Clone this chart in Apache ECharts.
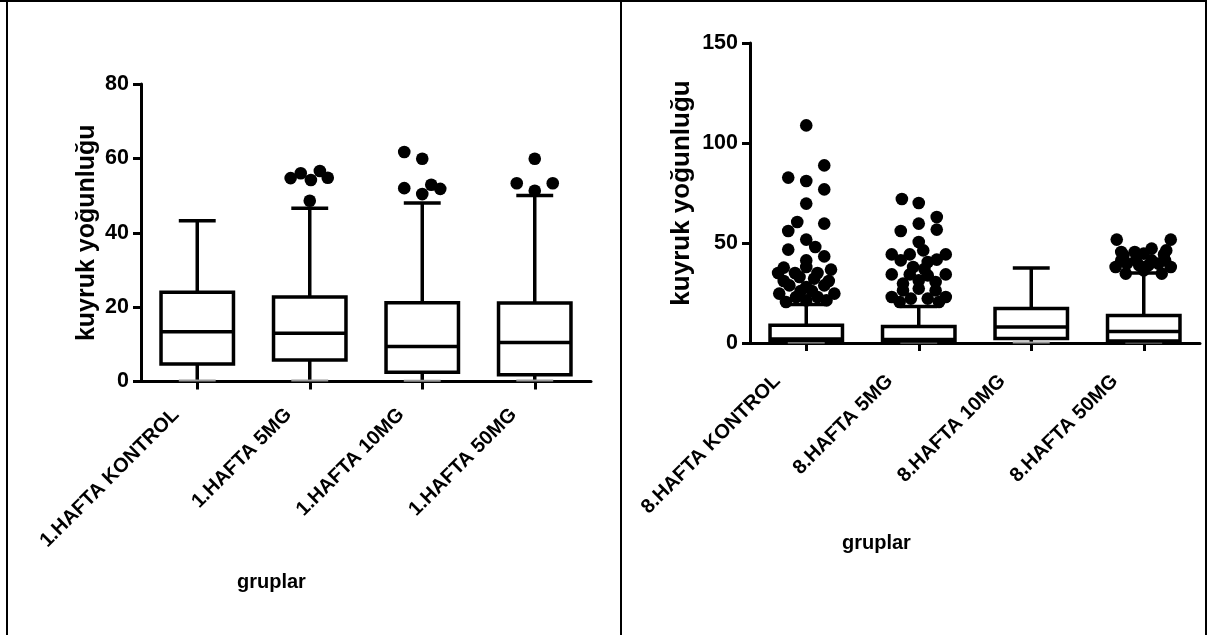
<!DOCTYPE html>
<html><head><meta charset="utf-8">
<script src="https://cdn.jsdelivr.net/npm/echarts@6/dist/echarts.min.js"></script>
<style>html,body{margin:0;padding:0;background:#fff}#c{width:1207px;height:635px}</style>
</head><body><div id="c"></div>
<script>
const catsWeek1 = ['1.HAFTA KONTROL', '1.HAFTA 5MG', '1.HAFTA 10MG', '1.HAFTA 50MG'];
const catsWeek8 = ['8.HAFTA KONTROL', '8.HAFTA 5MG', '8.HAFTA 10MG', '8.HAFTA 50MG'];
const yTicksWeek1 = [0, 20, 40, 60, 80];
const yTicksWeek8 = [0, 50, 100, 150];
const yTitle = 'kuyruk yoğunluğu';
const xTitle = 'gruplar';
// box values per group: [min, Q1, median, Q3, max]
const boxWeek1 = [
  [0.3, 4.7, 13.4, 24.0, 43.2],
  [0.3, 5.8, 13.0, 22.7, 46.6],
  [0.2, 2.5, 9.4, 21.2, 48.0],
  [0.3, 1.8, 10.5, 21.1, 50.0]
];
const boxWeek8 = [
  [0.2, 1.2, 2.0, 8.9, 19.3],
  [0.2, 1.0, 1.8, 8.3, 18.3],
  [0.3, 2.2, 8.0, 17.2, 37.5],
  [0.2, 1.0, 5.8, 13.8, 35.0]
];
// outliers: [group index, value, horizontal jitter as fraction of category width]
const outWeek1 = [
  [1, 54.7, -0.17], [1, 56.0, -0.08], [1, 54.2, 0.01], [1, 56.6, 0.09], [1, 54.8, 0.16], [1, 48.6, 0.0],
  [2, 61.7, -0.16], [2, 59.9, 0.0], [2, 52.0, -0.16], [2, 52.9, 0.08], [2, 51.8, 0.16], [2, 50.4, 0.0],
  [3, 59.9, 0.0], [3, 53.3, -0.16], [3, 53.3, 0.16], [3, 51.3, 0.0]
];
const outWeek8 = [
  [0, 108.8, 0.0], [0, 82.7, -0.16], [0, 81.0, 0.0], [0, 88.8, 0.16], [0, 76.8, 0.16], [0, 69.7, 0.0],
  [0, 60.5, -0.08], [0, 59.7, 0.16], [0, 56.0, -0.16], [0, 51.7, 0.0], [0, 46.7, -0.16], [0, 48.0, 0.08],
  [0, 43.3, 0.16], [0, 41.3, 0.0], [0, 37.7, -0.2], [0, 35.0, -0.25], [0, 36.7, 0.22], [0, 38.0, 0.0],
  [0, 33.0, -0.06], [0, 32.2, 0.07], [0, 28.8, -0.15], [0, 28.8, 0.16], [0, 28.0, 0.0], [0, 24.7, -0.24],
  [0, 24.7, 0.25], [0, 23.0, -0.09], [0, 23.0, 0.10], [0, 21.3, 0.0], [0, 20.5, -0.18], [0, 21.3, 0.18],
  [0, 31.0, -0.2], [0, 31.0, 0.2], [0, 26.0, -0.05], [0, 26.0, 0.05], [0, 35.0, -0.1], [0, 35.0, 0.1],
  [1, 72.0, -0.15], [1, 70.0, 0.0], [1, 63.0, 0.16], [1, 59.7, 0.0], [1, 56.0, -0.16], [1, 56.7, 0.16],
  [1, 50.5, 0.0], [1, 44.3, -0.24], [1, 44.3, -0.08], [1, 46.3, 0.04], [1, 44.3, 0.24], [1, 41.3, -0.16],
  [1, 41.7, 0.16], [1, 40.5, 0.08], [1, 34.3, -0.24], [1, 34.3, -0.08], [1, 33.8, 0.08], [1, 34.3, 0.24],
  [1, 31.3, 0.0], [1, 29.7, -0.14], [1, 30.5, 0.15], [1, 27.2, 0.0], [1, 26.3, -0.14], [1, 26.3, 0.15],
  [1, 23.0, -0.24], [1, 23.0, 0.24], [1, 22.2, -0.07], [1, 22.2, 0.08], [1, 20.5, -0.17], [1, 20.5, 0.18],
  [1, 38.0, -0.05], [1, 37.0, 0.05],
  [3, 51.7, -0.24], [3, 51.7, 0.24], [3, 43.9, -0.18], [3, 45.5, -0.08], [3, 47.2, 0.07], [3, 44.3, 0.18],
  [3, 38.0, -0.25], [3, 38.0, 0.24], [3, 39.7, -0.15], [3, 38.8, -0.04], [3, 38.8, 0.04], [3, 39.7, 0.13],
  [3, 41.3, -0.2], [3, 41.3, 0.19], [3, 34.7, -0.16], [3, 34.7, 0.16], [3, 36.3, 0.0], [3, 41.3, -0.07],
  [3, 41.3, 0.07], [3, 44.7, 0.0], [3, 45.5, -0.2], [3, 46.3, 0.2]
];

const FONT = '"Liberation Sans", Arial, Helvetica, sans-serif';
const LW = 3.5;

function boxRender(params, api) {
  const i = api.value(0);
  const mn = api.value(1), q1 = api.value(2), md = api.value(3), q3 = api.value(4), mx = api.value(5);
  const band = api.size([1, 0])[0];
  const hb = band * 0.322, hc = band * 0.164;
  const x = api.coord([i, md])[0];
  const y = v => api.coord([i, v])[1];
  const ls = { stroke: '#000', lineWidth: LW, fill: null };
  return {
    type: 'group', children: [
      { type: 'line', shape: { x1: x, y1: y(q3), x2: x, y2: y(mx) }, style: ls },
      { type: 'line', shape: { x1: x, y1: y(q1), x2: x, y2: y(mn) }, style: ls },
      { type: 'line', shape: { x1: x - hc, y1: y(mx), x2: x + hc, y2: y(mx) }, style: ls },
      { type: 'line', shape: { x1: x - hc, y1: y(mn), x2: x + hc, y2: y(mn) }, style: { stroke: '#999', lineWidth: 2 } },
      { type: 'rect', shape: { x: x - hb, y: y(q3), width: 2 * hb, height: y(q1) - y(q3) }, style: { fill: '#fff', stroke: '#000', lineWidth: LW } },
      { type: 'line', shape: { x1: x - hb, y1: y(md), x2: x + hb, y2: y(md) }, style: ls }
    ]
  };
}
function dotRender(params, api) {
  const i = api.value(0), v = api.value(1), j = api.value(2);
  const band = api.size([1, 0])[0];
  const p = api.coord([i, v]);
  return { type: 'circle', shape: { cx: p[0] + j * band, cy: p[1], r: 6.3 }, style: { fill: '#000' } };
}

function xAxisCfg(gi, cats, margin, padRight) {
  return {
    type: 'category', gridIndex: gi, data: cats, boundaryGap: true,
    axisLine: { show: true, lineStyle: { color: '#000', width: 3 } },
    axisTick: { show: true, alignWithLabel: true, length: 8, lineStyle: { color: '#000', width: 3 } },
    axisLabel: { rotate: 45, margin: margin, padding: [0, padRight, 0, 0], color: '#000', fontFamily: FONT, fontWeight: 'bold', fontSize: 20, interval: 0 },
    splitLine: { show: false }
  };
}
function yAxisCfg(gi, ticks, gap, fs) {
  return {
    type: 'value', gridIndex: gi, min: ticks[0], max: ticks[ticks.length - 1], interval: ticks[1] - ticks[0],
    name: yTitle, nameLocation: 'middle', nameGap: gap, nameRotate: 90,
    nameTextStyle: { color: '#000', fontFamily: FONT, fontWeight: 'bold', fontSize: fs },
    axisLine: { show: true, lineStyle: { color: '#000', width: 3 } },
    axisTick: { show: true, length: 8, lineStyle: { color: '#000', width: 3 } },
    axisLabel: { margin: 12, color: '#000', fontFamily: FONT, fontWeight: 'bold', fontSize: 21.5 },
    splitLine: { show: false }
  };
}

const chart = echarts.init(document.getElementById('c'));
chart.setOption({
  backgroundColor: '#fff',
  animation: false,
  grid: [
    { left: 141, top: 84, width: 450, height: 297.5 },
    { left: 750, top: 43, width: 450, height: 300 }
  ],
  xAxis: [xAxisCfg(0, catsWeek1, 9, 30), xAxisCfg(1, catsWeek8, 6, 41)],
  yAxis: [yAxisCfg(0, yTicksWeek1, 41, 25), yAxisCfg(1, yTicksWeek8, 55, 26)],
  series: [
    { type: 'custom', xAxisIndex: 0, yAxisIndex: 0, renderItem: boxRender, encode: { x: 0, y: [1, 2, 3, 4, 5] }, data: boxWeek1.map((b, i) => [i, ...b]), z: 3 },
    { type: 'custom', xAxisIndex: 0, yAxisIndex: 0, renderItem: dotRender, encode: { x: 0, y: 1 }, data: outWeek1, z: 4 },
    { type: 'custom', xAxisIndex: 1, yAxisIndex: 1, renderItem: boxRender, encode: { x: 0, y: [1, 2, 3, 4, 5] }, data: boxWeek8.map((b, i) => [i, ...b]), z: 3 },
    { type: 'custom', xAxisIndex: 1, yAxisIndex: 1, renderItem: dotRender, encode: { x: 0, y: 1 }, data: outWeek8, z: 4 }
  ],
  graphic: [
    { type: 'line', shape: { x1: 0, y1: 1, x2: 1207, y2: 1 }, style: { stroke: '#000', lineWidth: 2 } },
    { type: 'line', shape: { x1: 7, y1: 0, x2: 7, y2: 635 }, style: { stroke: '#000', lineWidth: 2 } },
    { type: 'line', shape: { x1: 621, y1: 0, x2: 621, y2: 635 }, style: { stroke: '#000', lineWidth: 2 } },
    { type: 'line', shape: { x1: 1206, y1: 0, x2: 1206, y2: 635 }, style: { stroke: '#000', lineWidth: 2 } },
    { type: 'text', left: 237, top: 572, style: { text: xTitle, fill: '#000', font: 'bold 20px ' + FONT } },
    { type: 'text', left: 842, top: 533, style: { text: xTitle, fill: '#000', font: 'bold 20px ' + FONT } }
  ]
});
</script>
</body></html>
